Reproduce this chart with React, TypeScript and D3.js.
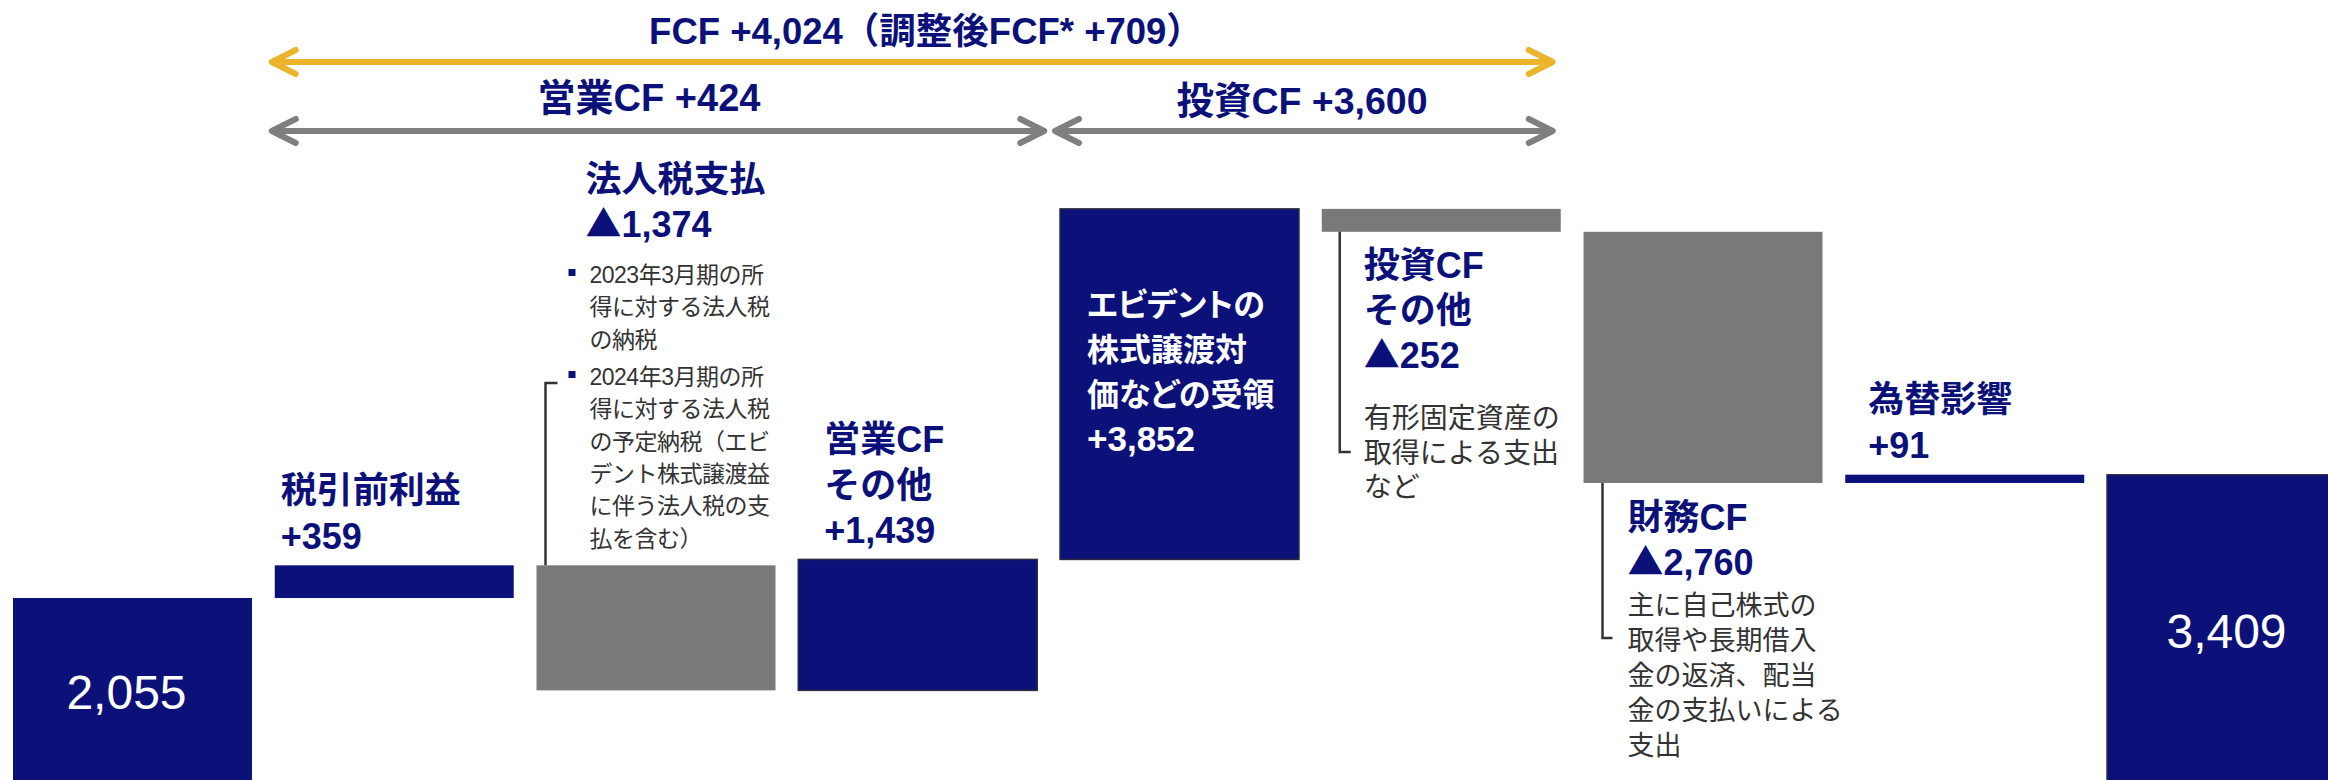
import React from "react";
import * as d3 from "d3";

// ---- data ----
const categories = ["期首", "税引前利益", "法人税支払", "営業CFその他", "エビデント株式譲渡", "投資CFその他", "財務CF", "為替影響", "期末"];
const values = [2055, 359, -1374, 1439, 3852, -252, -2760, 91, 3409];
const isTotal = [true, false, false, false, false, false, false, false, true];
const outlined = [false, false, false, true, true, false, false, false, true];

const titleText = "FCF +4,024（調整後FCF* +709）";
const opCfText = "営業CF +424";
const invCfText = "投資CF +3,600";

const labelPretax = ["税引前利益", "+359"];
const labelTax = ["法人税支払", "▲1,374"];
const taxBullet1 = ["2023年3月期の所", "得に対する法人税", "の納税"];
const taxBullet2 = ["2024年3月期の所", "得に対する法人税", "の予定納税（エビ", "デント株式譲渡益", "に伴う法人税の支", "払を含む）"];
const labelOpOther = ["営業CF", "その他", "+1,439"];
const labelEvident = ["エビデントの", "株式譲渡対", "価などの受領"];
const valueEvident = "+3,852";
const labelInvOther = ["投資CF", "その他", "▲252"];
const descInvOther = ["有形固定資産の", "取得による支出", "など"];
const labelFin = ["財務CF", "▲2,760"];
const descFin = ["主に自己株式の", "取得や長期借入", "金の返済、配当", "金の支払いによる", "支出"];
const labelFx = ["為替影響", "+91"];

const NAVY = "#0b1179";
const GRAY = "#797979";
const ARROW_GRAY = "#7f7f7f";
const GOLD = "#ebb42a";
const DESC = "#333333";
const FONT = "'Liberation Sans', Arial, 'Noto Sans CJK JP', sans-serif";
const CJK = "'Noto Sans CJK JP', sans-serif";

function renderText(t: string) {
  if (t.startsWith("▲")) {
    return (
      <>
        <tspan fontFamily={CJK}>▲</tspan>
        {t.slice(1)}
      </>
    );
  }
  return t;
}

export default function App() {
  const W = 2328;
  const H = 780;
  const x = d3.scaleBand<string>().domain(categories).range([13, 2346]).paddingInner(0.087).paddingOuter(0);
  const y = d3.scaleLinear().domain([0, 8000]).range([785, 785 - 8000 * 0.091]);
  const bw = x.bandwidth();

  let run = 0;
  const bars = categories.map((c, i) => {
    let y0: number, y1: number;
    if (isTotal[i]) {
      y0 = 0;
      y1 = values[i];
      run = values[i];
    } else {
      y0 = run;
      y1 = run + values[i];
      run = y1;
    }
    return { c, i, lo: Math.min(y0, y1), hi: Math.max(y0, y1), neg: values[i] < 0 };
  });

  const bx = (i: number) => x(categories[i]) as number;
  const topY = (i: number) => y(bars[i].hi);
  const botY = (i: number) => y(bars[i].lo);

  const lines = (arr: string[], x0: number, yFirst: number, dy: number, props: any) =>
    arr.map((t, k) => (
      <text key={k} x={x0} y={yFirst + k * dy} {...props}>
        {renderText(t)}
      </text>
    ));

  const boldLabel = { fontFamily: FONT, fontWeight: 700, fontSize: 36, fill: NAVY };
  const descStyle = { fontFamily: FONT, fontWeight: 400, fontSize: 27, fill: DESC };
  const bulletStyle = { fontFamily: FONT, fontWeight: 400, fontSize: 23, fill: DESC, letterSpacing: -0.5 };

  const arrow = (x1: number, x2: number, yy: number, color: string, key: string) => {
    const hw = 12;
    const hl = 24;
    return (
      <g key={key} stroke={color} strokeWidth={6} fill="none" strokeLinecap="round" strokeLinejoin="round">
        <line x1={x1 + 2} y1={yy} x2={x2 - 2} y2={yy} />
        <polyline points={`${x1 + hl},${yy - hw} ${x1},${yy} ${x1 + hl},${yy + hw}`} />
        <polyline points={`${x2 - hl},${yy - hw} ${x2},${yy} ${x2 - hl},${yy + hw}`} />
      </g>
    );
  };

  const bracket = (xv: number, yA: number, yB: number, tick: number, key: string) => (
    <path key={key} d={`M${xv},${yA} L${xv},${yB} L${xv + tick},${yB}`} stroke="#333" strokeWidth={2.5} fill="none" />
  );

  return (
    <svg width={W} height={H} style={{ position: "absolute", left: 0, top: 0, display: "block", background: "#fff" }}>
      {/* bars */}
      {bars.map((b) => (
        <rect
          key={b.c}
          x={bx(b.i)}
          y={y(b.hi)}
          width={bw}
          height={y(b.lo) - y(b.hi)}
          fill={b.neg ? GRAY : NAVY}
          stroke={outlined[b.i] ? "#2b2b40" : "none"}
          strokeWidth={outlined[b.i] ? 1.5 : 0}
        />
      ))}

      {/* total labels */}
      <text x={bx(0) + bw / 2 - 6} y={709} textAnchor="middle" fontFamily={FONT} fontSize={48} fill="#fff">
        {d3.format(",")(values[0])}
      </text>
      <text x={bx(8) + bw / 2} y={648} textAnchor="middle" fontFamily={FONT} fontSize={48} fill="#fff">
        {d3.format(",")(values[8])}
      </text>

      {/* top title and arrows */}
      <text x={926} y={44} textAnchor="middle" {...boldLabel} fontSize={36.5}>
        {titleText}
      </text>
      {arrow(bx(1) - 3, bx(5) + bw - 8, 62, GOLD, "gold")}
      <text x={649} y={111} textAnchor="middle" {...boldLabel} fontSize={38}>
        {opCfText}
      </text>
      <text x={1302} y={114} textAnchor="middle" {...boldLabel} fontSize={37.5}>
        {invCfText}
      </text>
      {arrow(bx(1) - 3, bx(3) + bw + 7, 131, ARROW_GRAY, "op")}
      {arrow(bx(4) - 5, bx(5) + bw - 8, 131, ARROW_GRAY, "inv")}

      {/* 税引前利益 */}
      {lines(labelPretax, bx(1) + 6, topY(1) - 62, 46, boldLabel)}

      {/* 法人税支払 */}
      {lines(labelTax, bx(2) + 49, 192, 45, boldLabel)}
      <rect x={bx(2) + 32} y={269} width={7} height={7} fill={NAVY} />
      {lines(taxBullet1, bx(2) + 53, 283, 32.3, bulletStyle)}
      <rect x={bx(2) + 32} y={371} width={7} height={7} fill={NAVY} />
      {lines(taxBullet2, bx(2) + 53, 385, 32.3, bulletStyle)}
      {bracket(bx(2) + 9, topY(2), 383, 12, "b1")}

      {/* 営業CFその他 */}
      {lines(labelOpOther, bx(3) + 26, topY(3) - 107, 45.5, boldLabel)}

      {/* エビデント */}
      {lines(labelEvident, bx(4) + 27, 316, 45, { ...boldLabel, fill: "#fff", fontSize: 32, style: { fontFeatureSettings: '"palt"' } })}
      <text x={bx(4) + 27} y={451} {...boldLabel} fill="#fff" fontSize={35}>
        {valueEvident}
      </text>

      {/* 投資CFその他 */}
      {lines(labelInvOther, bx(5) + 42, 278, 45, boldLabel)}
      {lines(descInvOther, bx(5) + 42, 428, 34.5, { ...descStyle, fontSize: 28 })}
      {bracket(bx(5) + 18, botY(5), 452, 11, "b2")}

      {/* 財務CF */}
      {lines(labelFin, bx(6) + 44, 530, 45, boldLabel)}
      {lines(descFin, bx(6) + 44, 615, 35, descStyle)}
      {bracket(bx(6) + 19, botY(6), 638, 10, "b3")}

      {/* 為替影響 */}
      {lines(labelFx, bx(7) + 23, topY(7) - 63, 46, boldLabel)}
    </svg>
  );
}
